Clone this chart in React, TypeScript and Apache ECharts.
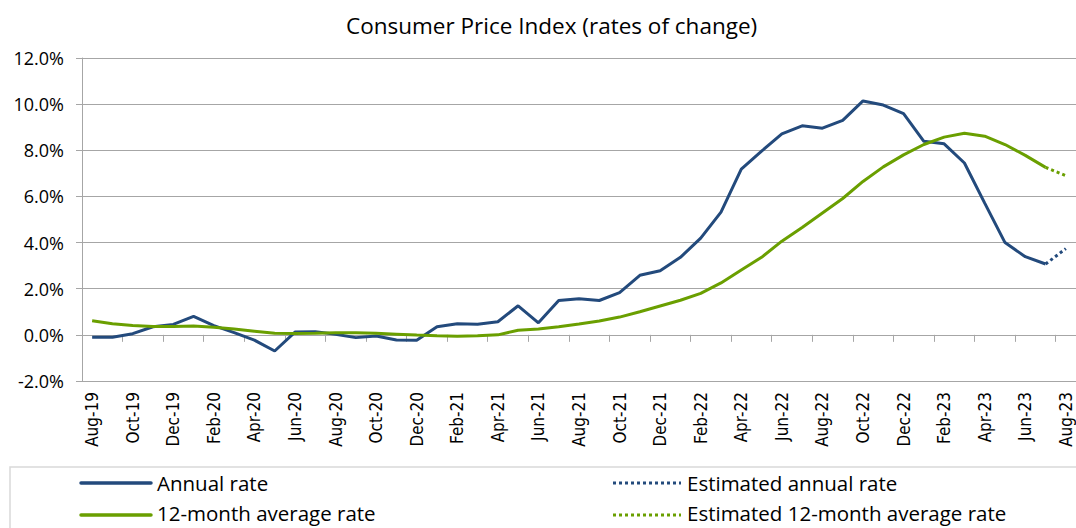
import React, { useEffect, useRef } from "react";
import * as echarts from "echarts";

const months: string[] = [
  "Aug-19", "Sep-19", "Oct-19", "Nov-19", "Dec-19", "Jan-20", "Feb-20", "Mar-20", "Apr-20", "May-20", "Jun-20", "Jul-20",
  "Aug-20", "Sep-20", "Oct-20", "Nov-20", "Dec-20", "Jan-21", "Feb-21", "Mar-21", "Apr-21", "May-21", "Jun-21", "Jul-21",
  "Aug-21", "Sep-21", "Oct-21", "Nov-21", "Dec-21", "Jan-22", "Feb-22", "Mar-22", "Apr-22", "May-22", "Jun-22", "Jul-22",
  "Aug-22", "Sep-22", "Oct-22", "Nov-22", "Dec-22", "Jan-23", "Feb-23", "Mar-23", "Apr-23", "May-23", "Jun-23", "Jul-23",
  "Aug-23",
];

const annualRate: (number | null)[] = [
  -0.1, -0.1, 0.05, 0.35, 0.45, 0.8, 0.4, 0.1, -0.23, -0.7, 0.12, 0.14,
  0.03, -0.12, -0.05, -0.22, -0.23, 0.35, 0.48, 0.46, 0.57, 1.26, 0.52, 1.49,
  1.57, 1.49, 1.83, 2.58, 2.78, 3.36, 4.19, 5.32, 7.18, 7.96, 8.71, 9.06,
  8.96, 9.3, 10.14, 9.96, 9.59, 8.39, 8.28, 7.45, 5.71, 4.0, 3.39, 3.07,
  null,
];

const estimatedAnnual: (number | null)[] = [
  null, null, null, null, null, null, null, null, null, null, null, null,
  null, null, null, null, null, null, null, null, null, null, null, null,
  null, null, null, null, null, null, null, null, null, null, null, null,
  null, null, null, null, null, null, null, null, null, null, null, 3.07,
  3.74,
];

const averageRate: (number | null)[] = [
  0.61, 0.48, 0.41, 0.36, 0.36, 0.38, 0.33, 0.25, 0.16, 0.07, 0.06, 0.07,
  0.09, 0.09, 0.07, 0.03, -0.01, -0.04, -0.06, -0.04, 0.0, 0.2, 0.25, 0.35,
  0.47, 0.6, 0.77, 1.0, 1.25, 1.5, 1.8, 2.25, 2.81, 3.36, 4.06, 4.65,
  5.28, 5.91, 6.65, 7.28, 7.8, 8.25, 8.57, 8.74, 8.61, 8.25, 7.78, 7.26,
  null,
];

const estimatedAverage: (number | null)[] = [
  null, null, null, null, null, null, null, null, null, null, null, null,
  null, null, null, null, null, null, null, null, null, null, null, null,
  null, null, null, null, null, null, null, null, null, null, null, null,
  null, null, null, null, null, null, null, null, null, null, null, 7.26,
  6.9,
];

const legendNames: string[] = [
  "Annual rate",
  "12-month average rate",
  "Estimated annual rate",
  "Estimated 12-month average rate",
];

const BLUE = "#234a7c";
const GREEN = "#6a9f00";
const GRIDC = "#a6a6a6";
const FONT = "'Open Sans', 'Noto Sans', sans-serif";

export default function App() {
  const ref = useRef<HTMLDivElement>(null);
  useEffect(() => {
    if (!ref.current) return;
    const chart = echarts.init(ref.current, undefined, { renderer: "svg" });
    const lineSeries = (name: string, data: (number | null)[], color: string, type: string) => ({
      name,
      type: "line",
      data,
      xAxisIndex: 0,
      symbol: "none",
      showSymbol: false,
      connectNulls: false,
      lineStyle: { color, width: 3, type, cap: "butt" },
      itemStyle: { color },
      z: type === "solid" ? 3 : 2,
    });

    const legendItem = (x: number, y: number, ty: number, color: string, dotted: boolean, label: string, len: number) => ({
      type: "group",
      silent: true,
      children: [
        {
          type: "line",
          shape: { x1: x, y1: y, x2: x + len, y2: y },
          style: dotted
            ? { stroke: color, lineWidth: 3, lineDash: [3, 3], lineCap: "butt" }
            : { stroke: color, lineWidth: 3.5, lineCap: "round" },
        },
        {
          type: "text",
          x: x + len + 6,
          y: ty,
          style: {
            text: label,
            fontFamily: FONT,
            fontSize: 20.5,
            fill: "#000",
            verticalAlign: "middle",
            align: "left",
          },
        },
      ],
    });

    chart.setOption({
      animation: false,
      title: {
        text: "Consumer Price Index (rates of change)",
        left: 341,
        top: 9,
        textStyle: { fontFamily: FONT, fontSize: 22.5, fontWeight: "normal", color: "#000" },
      },
      grid: { left: 82, right: 0, top: 58, bottom: 147 },
      xAxis: [
        {
          type: "category",
          data: months,
          boundaryGap: true,
          axisLine: { show: true, onZero: true, lineStyle: { color: GRIDC, width: 1 } },
          axisTick: { show: true, interval: 1, length: 7, lineStyle: { color: GRIDC } },
          axisLabel: { show: false },
          splitLine: { show: false },
        },
        {
          type: "category",
          data: months,
          position: "bottom",
          boundaryGap: true,
          axisLine: { show: false, onZero: false },
          axisTick: { show: false },
          axisLabel: {
            show: true,
            interval: 1,
            rotate: 90,
            margin: 11,
            fontFamily: "'Liberation Sans Narrow', 'DejaVu Sans Condensed', 'Liberation Sans', sans-serif",
            fontSize: 17,
            color: "#000",
          },
          splitLine: { show: false },
        },
      ],
      yAxis: {
        type: "value",
        min: -2,
        max: 12,
        interval: 2,
        axisLine: { show: true, lineStyle: { color: GRIDC } },
        axisTick: { show: true, length: 6, lineStyle: { color: GRIDC } },
        axisLabel: {
          formatter: (v: number) => v.toFixed(1) + "%",
          fontFamily: FONT,
          fontSize: 18,
          color: "#000",
          margin: 18,
        },
        splitLine: { show: true, lineStyle: { color: GRIDC, width: 1 } },
      },
      graphic: [
        {
          type: "rect",
          silent: true,
          shape: { x: 10, y: 467, width: 1100, height: 100 },
          style: { fill: "none", stroke: "#d9d9d9", lineWidth: 1.5 },
        },
        legendItem(81, 483, 483, BLUE, false, legendNames[0], 70),
        legendItem(81, 515, 513, GREEN, false, legendNames[1], 70),
        legendItem(613, 483, 483, BLUE, true, legendNames[2], 68),
        legendItem(613, 515, 513, GREEN, true, legendNames[3], 68),
      ],
      series: [
        lineSeries("Estimated annual rate", estimatedAnnual, BLUE, "dotted"),
        lineSeries("Estimated 12-month average rate", estimatedAverage, GREEN, "dotted"),
        lineSeries("Annual rate", annualRate, BLUE, "solid"),
        lineSeries("12-month average rate", averageRate, GREEN, "solid"),
      ],
    });
    return () => chart.dispose();
  }, []);
  return (
    <div
      ref={ref}
      style={{ position: "fixed", left: 0, top: 0, width: 1076, height: 528, background: "#fff" }}
    />
  );
}
